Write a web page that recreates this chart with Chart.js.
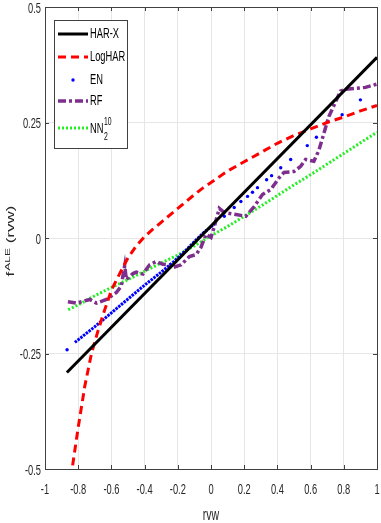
<!DOCTYPE html>
<html>
<head>
<meta charset="utf-8">
<title>ALE rvw</title>
<script src="https://cdn.jsdelivr.net/npm/chart.js@4.4.1/dist/chart.umd.min.js"></script>
<style>
  body { margin: 0; background: #fff; }
  #wrap { width: 381px; height: 523px; position: relative; }
</style>
</head>
<body>
<div id="wrap"><canvas id="aleChart"></canvas></div>
<script>
// ----- DATA -----
const xTicks = [-1, -0.8, -0.6, -0.4, -0.2, 0, 0.2, 0.4, 0.6, 0.8, 1];
const xTickLabels = ["-1", "-0.8", "-0.6", "-0.4", "-0.2", "0", "0.2", "0.4", "0.6", "0.8", "1"];
const yTicks = [-0.5, -0.25, 0, 0.25, 0.5];
const yTickLabels = ["-0.5", "-0.25", "0", "0.25", "0.5"];

const harX = [-0.868, 1.0];
const harY = [-0.291, 0.391];

const logharX = [-0.845, -0.8, -0.76, -0.72, -0.68, -0.64, -0.6, -0.55, -0.5, -0.45, -0.4, -0.35, -0.3, -0.25, -0.2, -0.15, -0.1, -0.05, 0, 0.1, 0.2, 0.3, 0.4, 0.5, 0.6, 0.7, 0.8, 0.9, 1.0];
const logharY = [-0.52, -0.41, -0.32, -0.25, -0.2, -0.155, -0.113, -0.077, -0.043, -0.017, 0.003, 0.019, 0.034, 0.049, 0.064, 0.079, 0.094, 0.108, 0.12, 0.145, 0.165, 0.185, 0.205, 0.222, 0.236, 0.25, 0.262, 0.275, 0.287];

// EN: dense dotted part, then single points
const enLineX = [-0.82, -0.7, -0.6, -0.5, -0.4, -0.3, -0.23, -0.15, -0.05, 0.02];
const enLineY = [-0.226, -0.192, -0.162, -0.132, -0.102, -0.074, -0.053, -0.026, 0.01, 0.03];
const enDotX = [-0.867, 0.08, 0.14, 0.18, 0.22, 0.25, 0.28, 0.335, 0.365, 0.42, 0.48, 0.58, 0.635, 0.79, 0.9];
const enDotY = [-0.242, 0.047, 0.066, 0.079, 0.09, 0.099, 0.109, 0.126, 0.135, 0.152, 0.17, 0.2, 0.218, 0.267, 0.299];

const rfX = [-0.862, -0.81, -0.77, -0.73, -0.69, -0.63, -0.57, -0.54, -0.53, -0.52, -0.51, -0.47, -0.45, -0.41, -0.37, -0.33, -0.29, -0.25, -0.23, -0.18, -0.13, -0.09, -0.06, -0.03, 0.0, 0.02, 0.05, 0.08, 0.15, 0.21, 0.26, 0.31, 0.36, 0.41, 0.44, 0.5, 0.54, 0.57, 0.62, 0.65, 0.71, 0.78, 0.81, 0.93, 1.0];
const rfY = [-0.138, -0.141, -0.137, -0.133, -0.141, -0.133, -0.118, -0.104, -0.08, -0.06, -0.09, -0.077, -0.074, -0.078, -0.058, -0.051, -0.057, -0.058, -0.064, -0.058, -0.04, -0.036, -0.02, 0.008, 0.001, 0.025, 0.064, 0.055, 0.051, 0.047, 0.068, 0.094, 0.105, 0.13, 0.142, 0.144, 0.155, 0.17, 0.166, 0.19, 0.263, 0.318, 0.322, 0.326, 0.333];

const nnX = [-0.86, -0.8, -0.7, -0.6, -0.5, -0.4, -0.3, -0.2, -0.1, 0, 0.1, 0.2, 0.3, 0.4, 0.5, 0.6, 0.7, 0.8, 0.9, 1.0];
const nnY = [-0.155, -0.145, -0.125, -0.107, -0.09, -0.072, -0.054, -0.037, -0.017, 0.005, 0.025, 0.047, 0.069, 0.092, 0.115, 0.137, 0.16, 0.183, 0.206, 0.229];

const FONT = "'Liberation Sans', Arial, sans-serif";
const AXIS_COLOR = "#404040";
const TEXT_COLOR = "#262626";
const SQUISH = 0.62;   // the picture's text is narrow

function pts(xs, ys) {
    return xs.map((x, i) => ({ x: x, y: ys[i] }));
}

// narrow text helper
function squishText(ctx, text, x, y, size, align, baseline) {
    ctx.save();
    ctx.font = size + "px " + FONT;
    ctx.textAlign = align || "left";
    ctx.textBaseline = baseline || "middle";
    ctx.translate(x, y);
    ctx.scale(SQUISH, 1);
    ctx.fillText(text, 0, 0);
    const w = ctx.measureText(text).width * SQUISH;
    ctx.restore();
    return w;
}


// ----- DATASETS -----
const datasets = [
    {
        label: "HAR-X", data: pts(harX, harY), showLine: true,
        borderColor: "#000000", borderWidth: 3, pointRadius: 0
    },
    {
        label: "LogHAR", data: pts(logharX, logharY), showLine: true,
        borderColor: "#ff0000", borderWidth: 3, borderDash: [8, 5], pointRadius: 0
    },
    {
        label: "EN", data: pts(enLineX, enLineY), showLine: true,
        borderColor: "#0000ff", borderWidth: 3, borderDash: [2.5, 1], pointRadius: 0
    },
    {
        label: "EN-dots", data: pts(enDotX, enDotY), showLine: false,
        backgroundColor: "#0000ff", borderColor: "#0000ff", borderWidth: 0,
        pointRadius: 1.7, legendHidden: true
    },
    {
        label: "RF", data: pts(rfX, rfY), showLine: true,
        borderColor: "#7e2f8e", borderWidth: 3.5, borderDash: [8, 3, 3, 3], pointRadius: 0
    },
    {
        label: "NN", data: pts(nnX, nnY), showLine: true,
        borderColor: "#22ee22", borderWidth: 3, borderDash: [2, 2], pointRadius: 0
    }
];


// ----- AXES BOX, TICKS, LABELS, LEGEND -----
const matlabAxes = {
    id: "matlabAxes",
    afterDraw(chart) {
        const ctx = chart.ctx;
        const a = chart.chartArea;
        const xs = chart.scales.x;
        const ys = chart.scales.y;

        ctx.save();
        ctx.strokeStyle = AXIS_COLOR;
        ctx.lineWidth = 1;
        ctx.setLineDash([]);
        ctx.strokeRect(Math.round(a.left) + 0.5, Math.round(a.top) + 0.5,
            Math.round(a.right - a.left), Math.round(a.bottom - a.top));

        // inward ticks
        ctx.beginPath();
        xTicks.forEach(v => {
            const px = Math.round(xs.getPixelForValue(v)) + 0.5;
            ctx.moveTo(px, a.bottom); ctx.lineTo(px, a.bottom - 4);
            ctx.moveTo(px, a.top); ctx.lineTo(px, a.top + 4);
        });
        yTicks.forEach(v => {
            const py = Math.round(ys.getPixelForValue(v)) + 0.5;
            ctx.moveTo(a.left, py); ctx.lineTo(a.left + 4, py);
            ctx.moveTo(a.right, py); ctx.lineTo(a.right - 4, py);
        });
        ctx.stroke();

        // tick labels
        ctx.fillStyle = TEXT_COLOR;
        xTicks.forEach((v, i) => {
            squishText(ctx, xTickLabels[i], xs.getPixelForValue(v), a.bottom + 21, 15, "center");
        });
        yTicks.forEach((v, i) => {
            squishText(ctx, yTickLabels[i], a.left - 4, ys.getPixelForValue(v) + 1.5, 15, "right");
        });

        // x label
        squishText(ctx, "rvw", (a.left + a.right) / 2, 515, 17, "center");

        // y label: f^{ALE} (rvw), rotated
        ctx.save();
        ctx.translate(14, (a.top + a.bottom) / 2 + 3);
        ctx.rotate(-Math.PI / 2);
        ctx.scale(1, SQUISH);
        ctx.textBaseline = "alphabetic";
        ctx.textAlign = "left";
        const big = "17px " + FONT, small = "12px " + FONT;
        ctx.font = big; const w1 = ctx.measureText("f").width;
        ctx.font = small; const w2 = ctx.measureText("ALE").width;
        ctx.font = big; const w3 = ctx.measureText(" (rvw)").width;
        const x0 = -(w1 + w2 + w3 + 1) / 2;
        ctx.font = big; ctx.fillText("f", x0, 0);
        ctx.font = small; ctx.fillText("ALE", x0 + w1 + 1, -7);
        ctx.font = big; ctx.fillText(" (rvw)", x0 + w1 + w2 + 1, 0);
        ctx.restore();

        // legend
        const lx = 54.5, ly = 20.5, lw = 73, lh = 128;
        ctx.fillStyle = "#fff";
        ctx.fillRect(lx, ly, lw, lh);
        ctx.strokeStyle = AXIS_COLOR;
        ctx.strokeRect(lx, ly, lw, lh);

        const rows = [34, 57, 80, 101, 128];
        const shown = chart.data.datasets.filter(d => !d.legendHidden);
        shown.forEach((ds, i) => {
            const y = rows[i];
            ctx.save();
            if (ds.label === "EN") {
                ctx.fillStyle = ds.borderColor;
                ctx.beginPath();
                ctx.arc(73, y, 1.7, 0, Math.PI * 2);
                ctx.fill();
            } else {
                ctx.strokeStyle = ds.borderColor;
                ctx.lineWidth = ds.borderWidth;
                ctx.setLineDash(ds.borderDash || []);
                ctx.beginPath();
                ctx.moveTo(58, y); ctx.lineTo(88, y);
                ctx.stroke();
            }
            ctx.restore();

            ctx.fillStyle = "#000";
            if (ds.label === "NN") {
                const w = squishText(ctx, "NN", 90, y + 1, 15);
                squishText(ctx, "2", 90 + w + 0.5, y + 9, 11);
                squishText(ctx, "10", 90 + w + 0.5, y - 6, 11);
            } else {
                squishText(ctx, ds.label, 90, y, 15);
            }
        });
        ctx.restore();
    }
};


// ----- CHART -----
const ctx = document.getElementById("aleChart").getContext("2d");

new Chart(ctx, {
    type: "scatter",
    data: { datasets: datasets },
    plugins: [matlabAxes],
    options: {
        responsive: true,
        maintainAspectRatio: false,
        animation: false,
        layout: { padding: { top: 7, right: 2, left: 0, bottom: 0 } },
        plugins: {
            legend: { display: false },
            tooltip: { enabled: false }
        },
        scales: {
            x: {
                type: "linear",
                min: -1, max: 1,
                afterBuildTicks: scale => { scale.ticks = xTicks.map(v => ({ value: v })); },
                afterFit: scale => {
                    scale.height = 54;
                    scale.paddingLeft = 0; scale.paddingRight = 0;
                },
                grid: { color: "#e6e6e6", drawTicks: false },
                border: { display: false },
                ticks: { display: false }
            },
            y: {
                type: "linear",
                min: -0.5, max: 0.5,
                afterBuildTicks: scale => { scale.ticks = yTicks.map(v => ({ value: v })); },
                afterFit: scale => {
                    scale.width = 45;
                    scale.paddingTop = 0; scale.paddingBottom = 0;
                },
                grid: { color: "#e6e6e6", drawTicks: false },
                border: { display: false },
                ticks: { display: false }
            }
        }
    }
});
</script>
</body>
</html>
